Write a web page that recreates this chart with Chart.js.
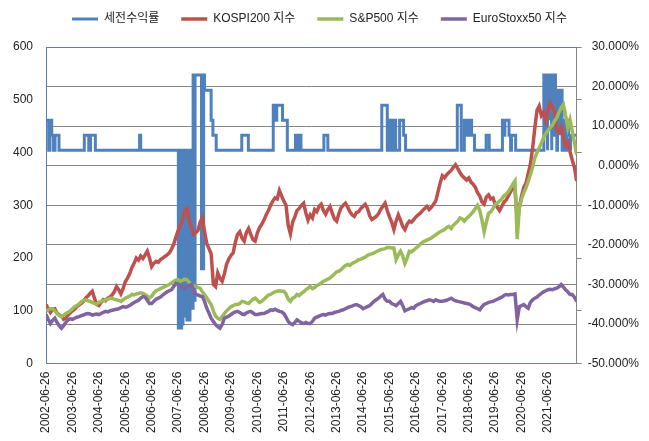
<!doctype html>
<html>
<head>
    <meta charset="utf-8">
    <title>세전수익률</title>
    <script src="https://cdn.jsdelivr.net/npm/chart.js@4.4.1/dist/chart.umd.min.js"></script>
    <style>
        html, body{
            margin: 0px;
            background: #fff;
        }
        #wrap{
            width: 649px;
            height: 441px;
        }
    </style>
</head>
<body>
    <div id="wrap"><canvas id="canvas" width="649" height="441"></canvas></div>
    <script>
        // x = months since 2002-06-26 (one value per month)
        var yearLabels = ['2002-06-26','2003-06-26','2004-06-26','2005-06-26','2006-06-26','2007-06-26',
            '2008-06-26','2009-06-26','2010-06-26','2011-06-26','2012-06-26','2013-06-26','2014-06-26',
            '2015-06-26','2016-06-26','2017-06-26','2018-06-26','2019-06-26','2020-06-26','2021-06-26'];

        var kospi200 = [
            112,104,97,103,104,96,92,90,84,86,92,96,
            100,103,108,111,114,118,124,128,133,137,124,112,
            110,116,121,119,124,126,130,136,146,140,132,142,
            155,162,170,182,190,200,196,204,199,206,213,200,
            184,190,194,192,197,200,203,206,210,217,226,240,
            252,262,272,290,294,272,258,245,248,252,268,276,
            250,228,218,208,150,146,172,162,156,170,188,198,
            205,210,230,245,250,238,232,248,256,245,235,232,
            248,258,264,272,282,290,300,308,314,312,328,318,
            308,300,262,246,268,278,290,294,300,304,286,272,
            282,276,292,288,298,302,290,283,292,298,285,274,
            270,284,295,300,304,297,288,282,279,286,288,294,
            298,302,294,280,273,276,279,284,292,298,304,290,
            278,268,254,270,282,272,260,254,264,270,268,273,
            278,282,285,290,294,298,292,296,302,308,325,342,
            356,352,358,362,366,372,377,370,362,356,352,348,
            352,344,340,334,324,318,306,302,316,320,312,314,
            302,296,290,298,306,310,318,326,333,330,272,296,
            318,334,342,360,378,408,446,480,488,470,476,460,
            480,494,486,478,440,438,448,430,414,420,402,386,
            372,346
        ];

        var sp500 = [
            99,102,104,104,100,95,91,89,92,95,97,100,
            104,108,110,113,117,120,121,119,118,116,114,113,
            116,118,119,121,122,124,124,122,121,120,118,121,
            124,126,128,131,130,132,133,134,133,131,128,124,
            128,134,138,140,142,144,146,148,150,153,156,158,
            159,156,158,160,159,154,150,146,147,144,143,136,
            131,125,118,112,100,90,86,84,89,95,100,104,
            108,110,112,112,114,118,117,115,114,118,122,124,
            120,116,118,122,126,130,131,134,136,137,138,137,
            137,132,122,118,124,126,131,129,133,136,140,143,
            146,142,144,148,150,153,156,158,160,162,166,170,
            174,175,178,182,186,188,186,190,192,194,197,198,
            200,202,205,207,208,210,212,214,216,217,218,220,
            220,219,219,197,206,213,204,190,200,213,212,215,
            219,222,226,230,232,234,236,238,241,244,247,250,
            252,254,258,260,256,262,266,270,276,274,270,275,
            279,283,288,294,300,290,272,250,268,285,288,294,
            302,304,308,312,318,321,326,333,340,346,236,296,
            312,324,333,345,358,372,390,400,409,418,428,436,
            442,447,452,460,466,476,485,491,470,447,462,440,
            420,396
        ];

        var euroStoxx50 = [
            93,84,76,82,86,78,72,67,72,78,83,85,
            84,86,88,89,91,92,94,95,94,92,93,94,
            93,95,97,99,98,100,101,102,103,104,106,108,
            107,108,110,113,116,118,120,124,127,126,120,114,
            114,118,122,124,126,130,133,136,138,140,146,152,
            150,147,145,143,146,148,150,140,131,130,128,127,
            118,105,96,86,80,74,70,67,74,86,88,90,
            93,96,98,99,97,94,93,96,98,99,96,93,
            93,94,95,95,97,99,102,101,103,101,99,98,
            95,88,80,76,74,78,83,80,77,76,78,76,
            76,80,86,88,90,92,93,92,94,95,95,97,
            98,99,101,102,104,106,108,109,111,112,110,108,
            104,106,108,110,114,118,121,124,128,131,122,118,
            118,114,112,110,114,118,110,100,102,104,106,105,
            110,112,114,116,118,119,121,120,118,121,119,118,
            118,119,120,122,124,121,119,118,117,116,115,114,
            113,111,108,106,104,102,108,112,114,116,117,118,
            120,122,124,126,129,131,130,131,131,132,83,108,
            110,112,108,105,116,121,124,126,130,133,136,138,
            140,141,140,142,143,146,150,145,140,136,131,131,
            126,118
        ];

        // 세전수익률 (%): [month, value] — it moves in steps
        var returnSteps = [
            [0,11.5],[1.2,11.5],[1.2,3.9],[1.7,3.9],[1.7,11.5],[2.6,11.5],[2.6,7.7],[3.3,7.7],[3.3,3.9],
            [4.1,3.9],[4.1,7.7],[5.9,7.7],[5.9,3.9],
            [17.4,3.9],[17.4,7.7],[19.4,7.7],[19.4,3.9],[20.2,3.9],[20.2,7.7],[22.4,7.7],[22.4,3.9],
            [42.5,3.9],[42.5,7.7],[43,7.7],[43,3.9],
            [60.1,3.9],[60.1,-41],[60.6,-41],[60.6,3.9],[60.9,3.9],[60.9,-41],[61.4,-41],[61.4,3.9],
            [61.7,3.9],[61.7,-40],[62.2,-40],[62.2,3.9],[62.5,3.9],[62.5,-38],[63,-38],[63,3.9],
            [64,3.9],[64,-39],[64.5,-39],[64.5,3.9],[64.9,3.9],[64.9,-39],[65.4,-39],[65.4,3.9],
            [66.3,3.9],[66.3,-36],[66.8,-36],[66.8,22.9],[67.3,22.9],[67.3,-34],[67.7,-34],[67.7,22.9],
            [70.6,22.9],[70.6,-26],[71.6,-26],[71.6,22.9],[72,22.9],[72,19.1],[75,19.1],[75,11.5],
            [75.8,11.5],[75.8,7.7],[77.3,7.7],[77.3,3.9],
            [88.9,3.9],[88.9,7.7],[91.9,7.7],[91.9,3.9],
            [103.2,3.9],[103.2,15.3],[104.4,15.3],[104.4,11.5],[104.8,11.5],[104.8,15.3],[107.4,15.3],
            [107.4,11.5],[109.6,11.5],[109.6,3.9],
            [113.3,3.9],[113.3,7.7],[113.9,7.7],[113.9,3.9],[115.2,3.9],[115.2,7.7],[115.8,7.7],[115.8,3.9],
            [126.2,3.9],[126.2,7.7],[128,7.7],[128,3.9],
            [152.5,3.9],[152.5,15.3],[155,15.3],[155,3.9],
            [156.2,3.9],[156.2,11.5],[157.4,11.5],[157.4,3.9],[157.8,3.9],[157.8,11.5],[158.8,11.5],[158.8,3.9],
            [160.6,3.9],[160.6,11.5],[162.4,11.5],[162.4,7.7],[163.3,7.7],[163.3,3.9],
            [186.8,3.9],[186.8,15.3],[188.6,15.3],[188.6,3.9],[190,3.9],[190,11.5],[191.3,11.5],[191.3,7.7],
            [192,7.7],[192,11.5],[193.3,11.5],[193.3,7.7],[194.6,7.7],[194.6,3.9],
            [199.9,3.9],[199.9,7.7],[201.3,7.7],[201.3,3.9],
            [207.3,3.9],[207.3,11.5],[208,11.5],[208,7.7],[208.4,7.7],[208.4,11.5],[210.3,11.5],[210.3,7.7],
            [211,7.7],[211,3.9],[211.4,3.9],[211.4,7.7],[213.3,7.7],[213.3,3.9],
            [226.1,3.9],[226.1,22.9],[226.6,22.9],[226.6,7.7],[227,7.7],[227,22.9],[227.6,22.9],[227.6,3.9],
            [227.9,3.9],[227.9,22.9],[228.5,22.9],[228.5,11.5],[228.9,11.5],[228.9,22.9],[229.5,22.9],
            [229.5,3.9],[229.8,3.9],[229.8,22.9],[230.4,22.9],[230.4,7.7],[230.8,7.7],[230.8,22.9],
            [231.4,22.9],[231.4,19.1],[232,19.1],[232,3.9],[232.3,3.9],[232.3,19.1],[233,19.1],[233,7.7],
            [233.3,7.7],[233.3,19.1],[234.4,19.1],[234.4,3.9],[235.2,3.9],[235.2,11.5],[236,11.5],[236,3.9],
            [236.5,3.9],[236.5,11.5],[237.3,11.5],[237.3,7.7],[238,7.7],[238,3.9],[238.4,3.9],[238.4,7.7],
            [241,7.7]
        ];

        function toPoints(arr){
            return arr.map(function(v, i){ return {x: i, y: v}; });
        }

        var FONT = "'Liberation Sans', Arial, 'Noto Sans CJK KR', sans-serif";

        // top edge of the plot area (Excel draws a frame there)
        var topFrame = {
            id: 'topFrame',
            beforeDatasetsDraw: function(chart){
                var a = chart.chartArea, ctx = chart.ctx;
                ctx.save();
                ctx.strokeStyle = '#4F81BD';
                ctx.lineWidth = 1;
                ctx.beginPath();
                ctx.moveTo(a.left, a.top + 0.5);
                ctx.lineTo(a.right, a.top + 0.5);
                ctx.stroke();
                ctx.restore();
            }
        };

        // a bit more room under the legend
        var legendSpace = {
            id: 'legendSpace',
            beforeInit: function(chart){
                var fit = chart.legend.fit;
                chart.legend.fit = function(){
                    fit.bind(chart.legend)();
                    this.height += 12;
                };
            }
        };

        window.onload = function(){
            var ctx = document.getElementById('canvas').getContext('2d');
            window.myChart = new Chart(ctx, {
                type: 'line',
                data: {
                    datasets: [{
                        label: '세전수익률',
                        data: returnSteps.map(function(p){ return {x: p[0], y: p[1]}; }),
                        borderColor: '#4F81BD',
                        backgroundColor: '#4F81BD',
                        borderWidth: 3,
                        yAxisID: 'y1',
                        order: 3
                    }, {
                        label: 'KOSPI200 지수',
                        data: toPoints(kospi200),
                        borderColor: '#C0504D',
                        backgroundColor: '#C0504D',
                        borderWidth: 3.5,
                        yAxisID: 'y',
                        order: 2
                    }, {
                        label: 'S&P500 지수',
                        data: toPoints(sp500),
                        borderColor: '#9BBB59',
                        backgroundColor: '#9BBB59',
                        borderWidth: 3.5,
                        yAxisID: 'y',
                        order: 1
                    }, {
                        label: 'EuroStoxx50 지수',
                        data: toPoints(euroStoxx50),
                        borderColor: '#8064A2',
                        backgroundColor: '#8064A2',
                        borderWidth: 3.5,
                        yAxisID: 'y',
                        order: 0
                    }]
                },
                options: {
                    responsive: false,
                    animation: false,
                    events: [],
                    layout: { padding: { left: 0, right: 10, top: -9, bottom: 0 } },
                    elements: {
                        point: { radius: 0 },
                        line: { tension: 0, borderJoinStyle: 'miter' }
                    },
                    plugins: {
                        tooltip: { enabled: false },
                        legend: {
                            position: 'top',
                            labels: {
                                usePointStyle: true,
                                pointStyle: 'line',
                                pointStyleWidth: 26,
                                boxWidth: 26,
                                padding: 22,
                                color: '#222',
                                font: { family: FONT, size: 12 },
                                sort: function(a, b){ return a.datasetIndex - b.datasetIndex; }
                            }
                        }
                    },
                    scales: {
                        x: {
                            type: 'linear',
                            min: 0,
                            max: 241,
                            grid: { drawOnChartArea: false, drawTicks: false },
                            border: { display: true, color: '#4F81BD' },
                            ticks: {
                                stepSize: 12,
                                autoSkip: false,
                                minRotation: 90,
                                maxRotation: 90,
                                padding: 8,
                                color: '#222',
                                font: { family: FONT, size: 12 },
                                callback: function(v){ return yearLabels[v / 12] || ''; }
                            }
                        },
                        y: {
                            position: 'left',
                            min: 0,
                            max: 600,
                            grid: { drawOnChartArea: false, drawTicks: false },
                            border: { display: true, color: '#4F81BD' },
                            ticks: {
                                stepSize: 100,
                                padding: 13,
                                color: '#222',
                                font: { family: FONT, size: 12 }
                            }
                        },
                        yMarks: {
                            position: 'right',
                            weight: 0,
                            min: 0,
                            max: 600,
                            grid: { drawOnChartArea: false, drawTicks: true, tickLength: 5, color: '#868686' },
                            border: { display: true, color: '#868686' },
                            ticks: { stepSize: 100, display: false }
                        },
                        y1: {
                            position: 'right',
                            weight: 1,
                            min: -50,
                            max: 30,
                            grid: { drawOnChartArea: true, drawTicks: false, color: '#868686' },
                            border: { display: false },
                            ticks: {
                                stepSize: 10,
                                padding: 3,
                                crossAlign: 'far',
                                color: '#222',
                                font: { family: FONT, size: 12 },
                                callback: function(v){ return v.toFixed(3) + '%'; }
                            }
                        }
                    }
                },
                plugins: [topFrame, legendSpace]
            });
        };
    </script>
</body>
</html>
